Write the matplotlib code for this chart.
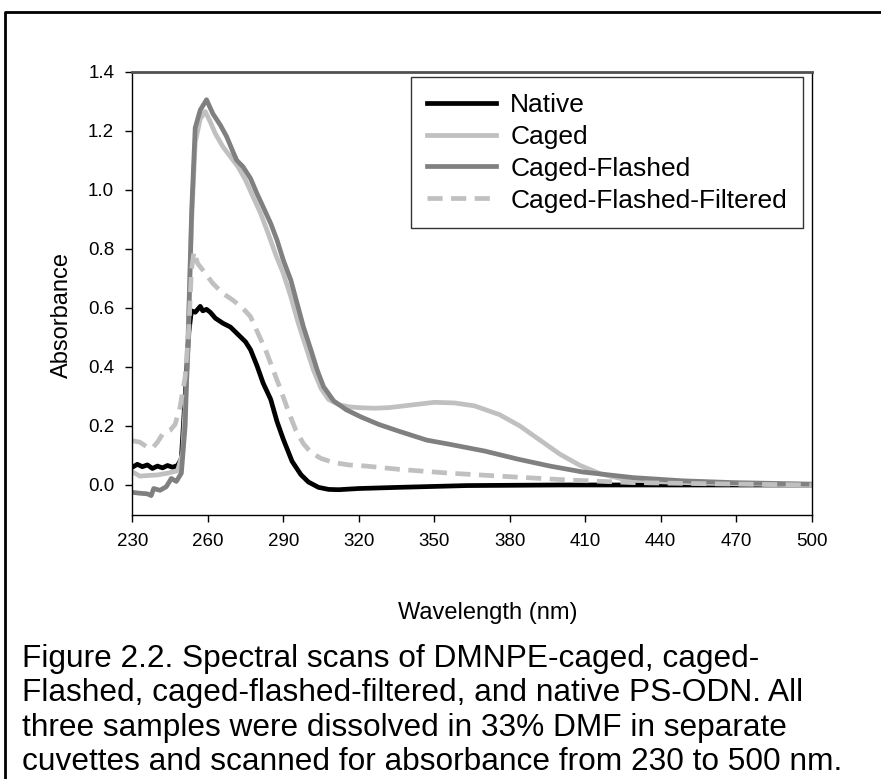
import numpy as np
import matplotlib
matplotlib.use("Agg")
import matplotlib.pyplot as plt
from matplotlib.lines import Line2D

plt.rcParams["font.family"] = ["Liberation Sans", "DejaVu Sans"]

# Native PS-ODN
native_wl = [230, 232, 234, 236, 238, 240, 242, 244, 246, 248, 249.5, 251, 252.5, 253.5,
             255, 257, 258, 259.5, 261, 263, 266, 269, 272, 275, 277, 279.5, 282, 285,
             287.5, 290, 293.5, 297, 300, 304, 308, 312, 320, 336, 363, 400, 440, 500]
native_abs = [0.060, 0.070, 0.062, 0.068, 0.056, 0.064, 0.058, 0.066, 0.060, 0.066, 0.090, 0.30, 0.52, 0.59,
              0.585, 0.605, 0.590, 0.595, 0.585, 0.565, 0.548, 0.535, 0.510, 0.485, 0.458, 0.405, 0.345, 0.290,
              0.215, 0.155, 0.080, 0.035, 0.010, -0.008, -0.015, -0.016, -0.012, -0.008, -0.002, 0.000, 0.000, 0.000]

# Caged
caged_wl = [230, 233, 236, 240, 244, 248, 250, 252, 253.5, 255, 257, 259, 261, 263, 266, 269,
            272, 275, 278, 281, 284, 287, 290, 293, 296, 299, 302, 305, 308, 312, 316, 320,
            326, 332, 340, 350, 358, 366, 376, 384, 392, 400, 408, 416, 424, 436, 456, 500]
caged_abs = [0.045, 0.030, 0.032, 0.034, 0.040, 0.048, 0.11, 0.42, 0.88, 1.16, 1.24, 1.265, 1.23, 1.19, 1.146, 1.112,
             1.078, 1.033, 0.976, 0.920, 0.852, 0.780, 0.717, 0.638, 0.547, 0.468, 0.389, 0.327, 0.290, 0.272, 0.265, 0.262,
             0.260, 0.262, 0.270, 0.280, 0.278, 0.268, 0.238, 0.200, 0.152, 0.104, 0.066, 0.038, 0.022, 0.012, 0.006, 0.000]

# Caged-Flashed
flashed_wl = [230, 233, 236, 237.5, 238.5, 241, 243.5, 245.5, 247.5, 249.5, 251, 252.3, 253.6, 255, 257, 259.5,
              262, 265, 267.5, 270, 271.5, 274, 277, 279.5, 282, 285, 287.5, 290, 293, 295.5, 298, 301,
              303.5, 306, 310, 315, 321, 328, 336, 347, 356, 370, 383, 396, 409, 429, 449, 469, 500]
flashed_abs = [-0.025, -0.028, -0.030, -0.036, -0.012, -0.018, -0.006, 0.022, 0.012, 0.040, 0.20, 0.54, 0.93, 1.21, 1.27, 1.305,
               1.258, 1.219, 1.180, 1.129, 1.100, 1.078, 1.038, 0.988, 0.942, 0.886, 0.830, 0.762, 0.694, 0.615, 0.536, 0.457,
               0.389, 0.333, 0.285, 0.255, 0.230, 0.205, 0.182, 0.152, 0.138, 0.115, 0.088, 0.064, 0.044, 0.025, 0.014, 0.008, 0.003]

# Caged-Flashed-Filtered
filtered_wl = [230, 233, 236, 238, 240, 242, 245, 247, 249, 251, 252.5, 253.5, 254.5, 256, 258, 262,
               266, 270, 274, 277, 280, 283, 286, 289, 292, 295, 298, 301, 305, 310, 316, 323,
               336, 356, 376, 403, 429, 460, 500]
filtered_abs = [0.150, 0.145, 0.128, 0.125, 0.145, 0.172, 0.185, 0.205, 0.265, 0.367, 0.536, 0.728, 0.790, 0.750, 0.728, 0.683,
                0.649, 0.626, 0.598, 0.570, 0.513, 0.457, 0.389, 0.322, 0.250, 0.185, 0.140, 0.110, 0.090, 0.076, 0.068, 0.064,
                0.053, 0.040, 0.030, 0.017, 0.008, 0.004, 0.000]

caption_lines = [
    "Figure 2.2. Spectral scans of DMNPE-caged, caged-",
    "Flashed, caged-flashed-filtered, and native PS-ODN. All",
    "three samples were dissolved in 33% DMF in separate",
    "cuvettes and scanned for absorbance from 230 to 500 nm.",
]

W, H = 881, 779
fig = plt.figure(figsize=(W / 100, H / 100), dpi=100)
ax = fig.add_axes([132.3 / W, 1 - 514.5 / H, 679.4 / W, 442.8 / H])

lw = 3.4
ax.plot(native_wl, native_abs, color="black", lw=lw, label="Native", solid_joinstyle="round")
ax.plot(caged_wl, caged_abs, color="#c0c0c0", lw=lw, label="Caged", solid_joinstyle="round")
ax.plot(flashed_wl, flashed_abs, color="#808080", lw=lw, label="Caged-Flashed", solid_joinstyle="round")
ax.plot(filtered_wl, filtered_abs, color="#c0c0c0", lw=lw, ls=(0, (3.2, 1.8)),
        label="Caged-Flashed-Filtered")

ax.set_xlim(230, 500)
ax.set_ylim(-0.1, 1.4)
ax.set_xticks(np.arange(230, 501, 30))
ax.set_yticks(np.arange(0, 1.41, 0.2))
ax.yaxis.set_major_formatter(matplotlib.ticker.FormatStrFormatter("%.1f"))
ax.tick_params(direction="out", length=5, width=1, labelsize=13.5)
ax.tick_params(axis="y", pad=8)
ax.tick_params(axis="x", pad=8)

for side in ["left", "bottom", "right"]:
    ax.spines[side].set_linewidth(1.0)
    ax.spines[side].set_color("black")
ax.spines["top"].set_linewidth(2.0)
ax.spines["top"].set_color("#505050")

ax.set_xlabel("Wavelength (nm)", fontsize=17)
ax.xaxis.set_label_coords(0.5236, -0.222)
ax.xaxis.label.set_va("center")
ax.set_ylabel("Absorbance", fontsize=17)
ax.yaxis.set_label_coords(-0.1035, 0.4505)
ax.yaxis.label.set_va("center")

leg = ax.legend(loc="upper right", bbox_to_anchor=(0.987, 0.988), borderaxespad=0,
                fontsize=19, frameon=True, fancybox=False, handlelength=2.6,
                handletextpad=0.55, labelspacing=0.3, borderpad=0.6)
leg.get_frame().set_edgecolor("black")
leg.get_frame().set_linewidth(1.0)

# outer frame (top and left edges visible)
top_y = 1 - 12 / H
left_x = 5 / W
fig.add_artist(Line2D([left_x, left_x, 1.0], [0.0, top_y, top_y],
                      transform=fig.transFigure, color="black", lw=2))

caption_base = [667, 701, 736, 770]
for line, yp in zip(caption_lines, caption_base):
    fig.text(22 / W, 1 - yp / H, line, fontsize=22.8, va="baseline", ha="left")

fig.savefig("out.png", dpi=100)
